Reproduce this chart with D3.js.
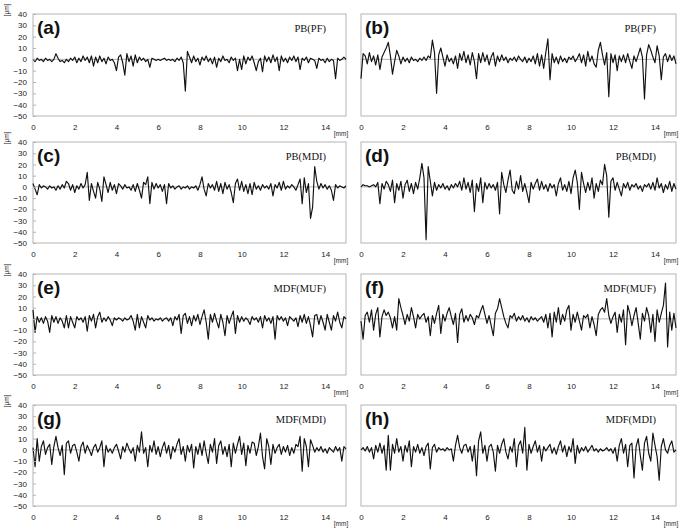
<!DOCTYPE html>
<html><head><meta charset="utf-8">
<script src="https://cdn.jsdelivr.net/npm/d3@7"></script>
<style>body{margin:0;background:#fff}svg{display:block}</style>
</head><body>
<script>
// ---- data ----
const panelLetters = ["(a)","(b)","(c)","(d)","(e)","(f)","(g)","(h)"];
const panelNames = ["PB(PF)","PB(PF)","PB(MDI)","PB(MDI)","MDF(MUF)","MDF(MUF)","MDF(MDI)","MDF(MDI)"];
const xTicks = [0,2,4,6,8,10,12,14];
const yTicks = [40,30,20,10,0,-10,-20,-30,-40,-50];
const distanceMm = d3.range(151).map(i => i / 10);

const profileA = [0,-2,1,-1,0,-2,1,-1,0,-2, 0,5,1,-2,-1,-3,0,-2,1,-1, 2,-3,1,-2,3,-1,2,-3,3,-6, 2,-3,3,-2,1,-4,2,-1,0,-3,
 -10,2,4,-3,-14,5,-2,3,-6,4, -3,2,-1,1,-2,0,-7,1,0,-1, 0,-1,0,1,-1,0,-1,0,-2,1, -1,2,-3,-28,7,2,-3,3,-2,1,
 -5,2,-1,3,-2,1,-4,2,-7,1, -2,3,-1,0,-3,2,-1,1,-10,0, -9,3,-4,2,-1,3,-3,-10,-2,1, -11,3,-2,2,-3,4,-2,2,-10,3,
 -2,1,-3,2,-1,3,-2,2,-9,1, -1,2,-3,1,0,-1,-8,1,-1,0, -3,1,-2,0,-1,-17,1,-1,0,2,0];
const profileB = [-17,5,3,-4,6,-2,3,-5,4,-9, 2,6,10,15,3,-13,-2,8,3,-4, 2,-2,1,-3,2,-1,0,-2,1,-1, 2,-1,3,1,17,6,-30,4,10,2,
 -6,4,-2,1,-4,3,-8,5,-1,7, -3,4,-5,6,-2,-17,5,-3,6,-2, 4,-5,2,6,-6,3,-2,4,-1,2, -3,1,-1,2,-2,3,0,-2,2,-3,
 1,-2,3,-4,5,-6,4,-8,6,18, -18,5,-3,2,-4,3,-2,1,-3,2, 0,3,-2,1,5,-3,4,-6,7,-2, 3,-4,-7,8,15,4,-5,6,-33,5,
 -3,4,-10,3,-2,4,-3,5,-2,-8, 3,-2,4,10,2,-35,4,13,8,2, -3,12,3,-18,2,5,-2,4,-1,3,-4];
const profileC = [3,-2,-7,2,-1,1,0,-2,1,-1, 0,-3,1,-2,2,-1,5,3,-3,2, -5,1,-2,3,-1,2,13,-12,3,-4, -10,4,-2,-13,9,2,-5,4,-3,2,
 -6,3,1,-2,2,-1,0,-3,2,-4, 3,-3,-10,4,2,9,-15,4,-2,3, -1,2,-4,2,-15,3,-1,1,-2,0, 1,-2,0,-1,1,-2,0,-1,1,-3,
 2,9,-2,-8,3,-1,2,-3,5,-4, 3,-6,4,-2,2,-5,-14,3,7,-3, 5,-4,2,-6,3,-7,4,-2,1,-3, 2,-1,1,-2,3,-8,2,-1,4,-3,
 5,-2,1,-1,2,0,-3,2,7,-15, 8,-5,3,-28,-18,18,5,-2,3,-1, 2,-2,1,-3,-12,2,-1,1,0,-1,1];
const profileD = [0,2,1,1,0,1,2,0,4,-15, 3,-2,5,2,-4,6,-14,3,-3,5, -10,2,6,-4,3,-6,4,-2,8,21, 8,-47,18,5,-8,4,-3,2,-1,3,
 -2,1,-3,2,-1,3,0,5,-3,8, -2,4,-5,6,-22,3,-4,8,-14,4, -2,3,-1,2,-3,4,-24,13,2,-5, 6,15,-3,-6,5,-2,10,-4,3,-5,
 -14,4,-2,3,7,-3,5,-2,2,-4, 3,-1,2,-8,3,8,-3,2,-4,5, -6,8,15,4,-20,13,3,-5,4,-3, 8,-10,3,-4,6,2,20,10,-27,5,
 8,-3,4,-2,-8,3,-1,4,-3,2, 0,3,-2,1,-4,2,0,3,-2,4, -3,8,-1,3,-5,2,-2,5,-4,3,-2];
const profileE = [8,-12,2,-3,1,-4,2,-2,-12,3, -3,2,-4,1,-2,-8,3,-8,2,-3, -8,2,-1,1,-3,2,-11,3,-2,4, -8,2,6,-3,1,-2,2,-1,-6,1,
 -1,1,0,-2,1,-1,0,3,-2,-10, 4,-8,2,-3,-8,3,-1,1,-2,0, -1,1,-2,0,1,-2,1,-6,2,-1, 4,-13,3,5,-4,2,-6,3,-2,4,
 -5,2,8,-3,-18,4,-3,5,-2,-8, 4,-3,-15,3,-4,2,7,-13,3,-3, 2,-2,1,-1,-5,2,-1,1,-3,2, -8,3,-2,1,-4,2,-18,3,-1,2,
 -2,1,-6,2,0,-2,1,-7,3,-3, 4,-4,2,-6,-16,3,4,-5,3,-3, -10,4,-3,-10,3,-2,6,-3,-8,2,0];
const profileF = [-2,-18,3,6,-3,8,-10,4,10,-16, 2,8,3,6,1,-8,2,-10,18,10, 3,-5,4,-2,10,2,-8,4,0,3, 5,-3,2,-15,3,-4,5,12,-13,4,
 -2,5,10,2,-5,5,-21,4,9,-3, 3,-2,4,1,-5,3,1,7,12,4, -4,3,-6,-15,5,9,18,10,2,-4, -8,3,1,5,-2,2,-1,3,-2,1,
 -3,2,-1,1,-2,0,2,-3,4,-8, 5,-16,6,-3,10,-5,4,-2,8,12, -10,4,-3,6,-2,-10,3,1,4,-8, 2,-5,-15,4,8,10,6,18,3,-4,
 2,6,-12,4,-3,8,-23,12,5,-6, 3,10,-4,-18,5,-2,10,3,-12,4, -20,8,-3,5,12,32,-25,6,-10,5,-8];
const profileG = [2,-15,10,-10,3,8,-4,2,5,-13, 3,12,2,-5,4,-22,6,8,-3,4, 5,-2,-10,3,7,-3,4,0,-5,2, 5,-2,2,8,-15,4,-2,1,-3,2,
 5,-1,-8,3,-2,6,1,-3,2,-10, 4,-2,16,-3,2,-15,4,-2,8,-4, 3,-6,2,7,-3,4,-8,3,-2,5, 10,-4,3,-10,4,-2,5,-16,3,-4,
 6,-5,8,-3,-12,5,-2,10,-12,4, 8,-4,3,-6,5,-15,6,-3,5,12, -4,6,-14,4,-3,7,6,-5,3,15, -6,-17,10,3,-13,5,-3,2,5,-4,
 3,-2,4,-5,2,-3,5,3,12,-19, 10,3,-15,9,4,-2,2,-1,3,-2, 1,-3,2,0,-2,3,-1,2,-10,3,1];
const profileH = [0,2,-1,3,-2,2,-8,4,-2,6, -3,4,-18,13,-18,5,-3,10,-2,3, -10,4,-2,8,-15,3,-2,5,-3,2, -5,3,6,-17,2,5,-2,2,0,1,
 -1,2,0,1,-10,4,13,2,-3,4, 5,-2,3,-10,4,-23,8,16,-3,4, -10,3,5,-2,-19,4,-3,5,10,-2, -8,3,-2,10,-15,4,8,-3,20,-18,
 5,-3,3,8,-2,4,-10,3,-1,2, 5,-3,2,-4,3,8,-2,4,-6,3, -2,10,-12,4,-3,2,-1,3,-2,1, 4,-1,1,-2,1,-1,0,2,-1,1,
 -3,2,-10,4,10,-3,5,-15,4,6, -25,3,10,-5,-18,6,12,-3,-10,15, 4,-6,-27,3,10,0,-3,4,8,-2,0];
const profiles = [profileA, profileB, profileC, profileD, profileE, profileF, profileG, profileH];

// ---- layout ----
const W = 685, H = 530;
const colX = [[33, 346], [361, 676]];
const rowY = [[14, 116], [142, 243], [274, 375], [405, 506]];

const svg = d3.select("body").append("svg").attr("width", W).attr("height", H);

profiles.forEach((vals, i) => {
  const col = i % 2, row = Math.floor(i / 2);
  const [x0, x1] = colX[col];
  const [y0, y1] = rowY[row];
  const x = d3.scaleLinear().domain([0, 15]).range([x0, x1]);
  const y = d3.scaleLinear().domain([40, -50]).range([y0, y1]);
  const g = svg.append("g");

  g.append("rect").attr("x", x0).attr("y", y0).attr("width", x1 - x0).attr("height", y1 - y0)
    .attr("fill", "#fff").attr("stroke", "#b4b4b4").attr("stroke-width", 1);

  g.append("line").attr("x1", x0).attr("x2", x1).attr("y1", y(0)).attr("y2", y(0))
    .attr("stroke", "#9a9a9a").attr("stroke-width", 0.8);

  const line = d3.line().x((d, k) => x(distanceMm[k])).y(d => y(d));
  g.append("path").datum(vals).attr("d", line).attr("fill", "none")
    .attr("stroke", "#111").attr("stroke-width", 1.15).attr("stroke-linejoin", "round");

  const xa = g.append("g").attr("transform", `translate(0,${y1 + 5})`)
    .call(d3.axisBottom(x).tickValues(xTicks).tickSize(0).tickFormat(d3.format("d")));
  xa.select(".domain").remove();
  xa.selectAll("text").attr("font-family", "Arial, 'Liberation Sans', sans-serif")
    .attr("font-size", 8).attr("fill", "#222");
  g.append("text").attr("x", x1 - 5).attr("y", y1 + 20).attr("text-anchor", "middle")
    .attr("font-family", "Arial, 'Liberation Sans', sans-serif").attr("font-size", 6.5)
    .attr("fill", "#222").text("[mm]");

  if (col === 0) {
    const ya = g.append("g").attr("transform", `translate(${x0},0)`)
      .call(d3.axisLeft(y).tickValues(yTicks).tickSize(-3).tickPadding(6).tickFormat(d3.format("d")));
    ya.select(".domain").remove();
    ya.selectAll("line").attr("stroke", "#b4b4b4");
    ya.selectAll("text").attr("font-family", "Arial, 'Liberation Sans', sans-serif")
      .attr("font-size", 8).attr("fill", "#222");
    g.append("text").attr("transform", `translate(9,${y0 - 4}) rotate(-90)`)
      .attr("text-anchor", "middle").attr("font-family", "Arial, 'Liberation Sans', sans-serif")
      .attr("font-size", 6.5).attr("fill", "#222").text("[μm]");
  }

  g.append("text").attr("x", x0 + 4).attr("y", y0 + 20)
    .attr("font-family", "Arial, 'Liberation Sans', sans-serif").attr("font-weight", "bold")
    .attr("font-size", 19).attr("fill", "#111").text(panelLetters[i]);
  g.append("text").attr("x", x1 - 20).attr("y", y0 + 18).attr("text-anchor", "end")
    .attr("font-family", "'Liberation Serif', 'Times New Roman', serif")
    .attr("font-size", 10.5).attr("fill", "#111").text(panelNames[i]);
});
</script>
</body></html>
